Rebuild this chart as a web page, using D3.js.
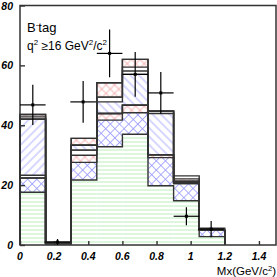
<!DOCTYPE html>
<meta charset="utf-8">
<style>
  body { margin: 0; background: #fff; }
  svg { display: block; }
</style>
<script src="https://cdnjs.cloudflare.com/ajax/libs/d3/7.8.5/d3.min.js"></script>
<div id="chart"></div>
<script>
// bin edges in Mx (GeV/c^2)
var binEdges = [0, 0.15, 0.3, 0.45, 0.6, 0.75, 0.9, 1.05, 1.2];

// stacked MC components, bottom to top (events per bin)
var greenBkg  = [17.6, 0.3, 21.7, 32.8, 37.0, 19.8, 14.8, 2.8];
var blueCross = [4.8, 0.3, 5.9, 8.9, 7.2, 9.4, 5.7, 2.1];
var redLow    = [0, 0, 2.4, 2.2, 2.5, 0.9, 0, 0];
var white1    = [0.9, 0, 1.7, 0, 0, 0, 0.4, 0];
var blueFwd   = [18.7, 0, 0, 0, 0, 0, 0, 0];
var blueBack  = [0, 0, 1.6, 3.9, 10.3, 13.8, 0, 0];
var white2    = [0, 0, 0, 1.6, 1.1, 0.8, 0.4, 0];
var white2b   = [0.8, 0, 0, 0, 1.3, 0, 0, 0];
var redHigh   = [0.8, 0, 2.3, 4.8, 2.6, 0, 0.8, 0];
var white3    = [0, 0.3, 0, 0, 0, 0, 1.0, 0.7];

// data points
var dataX   = [0.075, 0.22, 0.37, 0.525, 0.675, 0.825, 0.975, 1.12];
var dataY   = [46.8, 1.0, 47.8, 64.0, 57.0, 50.8, 9.6, 5.3];
var dataErr = [6.7, 1.0, 7.0, 8.0, 7.5, 7.0, 3.0, 2.7];

var xTicks = [0, 0.2, 0.4, 0.6, 0.8, 1, 1.2, 1.4];
var yTicks = [0, 20, 40, 60, 80];

var W = 277, H = 277;
var svg = d3.select("#chart").append("svg")
    .attr("width", W).attr("height", H);

var x = d3.scaleLinear().domain([0, 1.5]).range([20, 276]);
var y = d3.scaleLinear().domain([0, 80]).range([245, 5.5]);

// hatch patterns: a vertical (and maybe horizontal) line, rotated
var defs = svg.append("defs");
function hatch(id, color, angle, cross, step) {
    var p = defs.append("pattern").attr("id", id)
        .attr("patternUnits", "userSpaceOnUse")
        .attr("width", step).attr("height", step)
        .attr("patternTransform", "rotate(" + angle + ")");
    p.append("rect").attr("width", step).attr("height", step).attr("fill", "#fff");
    p.append("line").attr("x1", step / 2).attr("y1", 0).attr("x2", step / 2).attr("y2", step);
    if (cross) p.append("line").attr("x1", 0).attr("y1", step / 2).attr("x2", step).attr("y2", step / 2);
    p.selectAll("line").attr("stroke", color).attr("stroke-width", 0.8);
}
hatch("green", "#a6eaa6", 90, false, 4);
hatch("bluex", "#9a9aff", 45, true, 6.5);
hatch("bluef", "#9a9aff", 45, false, 6);
hatch("blueb", "#9a9aff", -45, false, 6);
hatch("redx", "#f4a4a4", 45, true, 6);

var layers = [
    { v: greenBkg, fill: "url(#green)" },
    { v: blueCross, fill: "url(#bluex)" },
    { v: redLow, fill: "url(#redx)" },
    { v: white1, fill: "#fff" },
    { v: blueFwd, fill: "url(#bluef)" },
    { v: blueBack, fill: "url(#blueb)" },
    { v: white2, fill: "#fff" },
    { v: white2b, fill: "#fff" },
    { v: redHigh, fill: "url(#redx)" },
    { v: white3, fill: "#fff" }
];

// cumulative levels
var nb = binEdges.length - 1;
var cum = new Array(nb).fill(0);
layers.forEach(function(l) {
    l.lo = cum.slice();
    l.hi = cum.map(function(c, i) { return c + l.v[i]; });
    cum = l.hi.slice();
});

// fills
layers.forEach(function(l) {
    svg.append("g").selectAll("rect")
        .data(d3.range(nb))
        .enter().append("rect")
        .attr("x", function(i) { return x(binEdges[i]); })
        .attr("width", function(i) { return x(binEdges[i + 1]) - x(binEdges[i]); })
        .attr("y", function(i) { return y(l.hi[i]); })
        .attr("height", function(i) { return y(l.lo[i]) - y(l.hi[i]); })
        .attr("fill", l.fill);
});

// step outlines for every cumulative level
layers.forEach(function(l) {
    var pts = [[binEdges[0], 0]];
    for (var i = 0; i < nb; i++) {
        pts.push([binEdges[i], l.hi[i]]);
        pts.push([binEdges[i + 1], l.hi[i]]);
    }
    pts.push([binEdges[nb], 0]);
    svg.append("path")
        .attr("d", d3.line().x(function(d) { return x(d[0]); }).y(function(d) { return y(d[1]); })(pts))
        .attr("fill", "none").attr("stroke", "#333").attr("stroke-width", 1.4);
});

// frame
svg.append("rect")
    .attr("x", x(0)).attr("y", y(80))
    .attr("width", x(1.5) - x(0)).attr("height", y(0) - y(80))
    .attr("fill", "none").attr("stroke", "#333").attr("stroke-width", 1.5);

// axes (ticks inside)
var xa = svg.append("g").attr("transform", "translate(0," + y(0) + ")")
    .call(d3.axisTop(x).tickValues(xTicks).tickSize(4).tickFormat(""));
var ya = svg.append("g").attr("transform", "translate(" + x(0) + ",0)")
    .call(d3.axisRight(y).tickValues(yTicks).tickSize(5).tickFormat(""));
[xa, ya].forEach(function(a) {
    a.select(".domain").remove();
    a.selectAll("line").attr("stroke", "#333").attr("stroke-width", 1.4);
});

svg.append("g").selectAll("text").data(xTicks).enter().append("text")
    .attr("x", function(d) { return x(d); }).attr("y", 259.5)
    .attr("text-anchor", "middle")
    .style("font", "italic bold 10.5px 'Liberation Sans', Arial, sans-serif")
    .text(function(d) { return d; });
svg.append("g").selectAll("text").data(yTicks).enter().append("text")
    .attr("x", 13).attr("y", function(d) { return y(d) + 4; })
    .attr("text-anchor", "end")
    .style("font", "italic bold 10.5px 'Liberation Sans', Arial, sans-serif")
    .text(function(d) { return d; });

// data points with error bars
var pts = svg.append("g").attr("stroke", "#000").attr("stroke-width", 1.2);
dataX.forEach(function(dx, i) {
    pts.append("line").attr("x1", x(dx - 0.075)).attr("x2", x(dx + 0.075))
        .attr("y1", y(dataY[i])).attr("y2", y(dataY[i]));
    pts.append("line").attr("x1", x(dx)).attr("x2", x(dx))
        .attr("y1", y(dataY[i] - dataErr[i])).attr("y2", y(dataY[i] + dataErr[i]));
    pts.append("rect").attr("x", x(dx) - 1.5).attr("y", y(dataY[i]) - 1.5)
        .attr("width", 3).attr("height", 3).attr("fill", "#000").attr("stroke", "none");
});

// labels
var lab = "'Liberation Sans', Arial, sans-serif";
var t1 = svg.append("text").attr("x", 27).attr("y", 32).style("font", "13px " + lab);
t1.append("tspan").text("B");
t1.append("tspan").attr("dy", -5).style("font-size", "8px").text("-");
t1.append("tspan").attr("dy", 5).text("tag");

var t2 = svg.append("text").attr("x", 27).attr("y", 50).style("font", "12px " + lab);
t2.append("tspan").text("q");
t2.append("tspan").attr("dy", -5).style("font-size", "8px").text("2");
t2.append("tspan").attr("dy", 5).text(" \u226516 GeV");
t2.append("tspan").attr("dy", -5).style("font-size", "8px").text("2");
t2.append("tspan").attr("dy", 5).text("/c");
t2.append("tspan").attr("dy", -5).style("font-size", "8px").text("2");

var t3 = svg.append("text").attr("x", 276).attr("y", 275).attr("text-anchor", "end")
    .style("font", "11.5px " + lab);
t3.append("tspan").text("Mx(GeV/c");
t3.append("tspan").attr("dy", -4).style("font-size", "7.5px").text("2");
t3.append("tspan").attr("dy", 4).text(")");
</script>
